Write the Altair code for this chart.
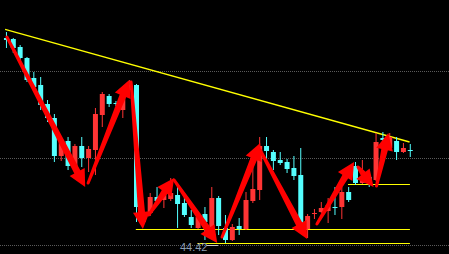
import math
import altair as alt
import pandas as pd

# ---------------- data ----------------
idx = list(range(1, 61))
opens = [54.67, 54.62, 54.22, 53.67, 52.67, 52.32, 51.37, 50.67, 48.77, 49.52,
         48.22, 49.27, 48.67, 49.07, 50.82, 51.77, 51.42, 51.07, 52.07, 52.32,
         45.47, 45.92, 46.72, 46.57, 46.62, 46.82, 46.42, 45.72, 45.17, 45.87,
         45.22, 46.67, 45.17, 44.57, 45.27, 45.12, 46.52, 47.07, 49.27, 48.97,
         48.57, 48.47, 48.17, 47.82, 45.12, 45.87, 45.97, 46.02, 46.22, 46.22,
         46.97, 48.27, 47.42, 47.72, 47.57, 49.67, 49.17, 49.52, 48.97, 49.07]
closes = [54.57, 54.17, 53.67, 52.57, 52.22, 51.32, 50.67, 48.77, 49.47, 48.27,
          49.27, 48.67, 49.12, 50.87, 51.87, 51.37, 51.37, 51.97, 52.32, 46.22,
          45.97, 46.72, 46.52, 46.92, 46.92, 46.37, 45.82, 45.32, 45.72, 45.47,
          46.67, 45.27, 44.57, 45.22, 45.12, 46.57, 47.12, 49.27, 49.02, 48.52,
          48.42, 48.12, 47.77, 45.22, 45.77, 45.92, 46.17, 46.32, 46.17, 46.97,
          46.57, 47.42, 47.72, 47.57, 49.47, 49.57, 49.72, 48.97, 49.17, 49.02]
highs = [54.97, 54.67, 54.32, 53.72, 52.97, 52.72, 51.57, 50.87, 49.57, 49.72,
         49.37, 49.72, 49.27, 51.17, 51.97, 51.87, 51.52, 52.17, 52.57, 52.37,
         46.17, 46.92, 47.22, 47.07, 47.67, 47.22, 46.82, 46.07, 45.82, 46.22,
         47.22, 46.77, 45.82, 45.37, 45.67, 46.97, 48.67, 49.72, 49.72, 49.07,
         48.97, 48.62, 48.77, 49.17, 45.87, 46.12, 46.47, 46.67, 47.22, 47.22,
         47.22, 48.47, 48.57, 47.82, 49.92, 49.97, 49.92, 49.72, 49.42, 49.37]
lows = [54.17, 53.92, 53.47, 52.47, 51.97, 51.07, 50.47, 48.47, 48.52, 48.07,
        48.07, 48.22, 47.97, 47.82, 50.22, 51.22, 51.27, 50.67, 51.97, 45.47,
        45.27, 45.77, 46.32, 46.17, 46.52, 45.17, 45.72, 45.17, 45.12, 44.57,
        45.17, 44.82, 44.42, 44.52, 44.82, 45.07, 46.42, 46.57, 48.42, 48.07,
        48.32, 47.92, 47.57, 45.07, 44.67, 45.62, 45.92, 45.42, 45.82, 45.62,
        46.47, 47.32, 47.37, 47.22, 47.52, 49.52, 49.12, 48.57, 48.92, 48.72]

grid_levels = [53.02, 48.67, 44.32]

trend_x = [0.8, 59.9]
trend_y = [55.10, 49.47]

level_values = [47.37, 45.12, 44.42]
level_start = [50.9, 19.9, 28.9]
level_end = [59.95, 59.95, 59.95]

arrow_tail_x = [1.07, 12.93, 19.21, 21.79, 25.50, 32.50, 38.07, 46.36, 52.36, 55.07]
arrow_tail_y = [54.72, 47.42, 52.47, 45.82, 47.57, 44.72, 49.07, 45.37, 48.22, 47.27]
arrow_tip_x = [12.50, 18.93, 20.93, 25.50, 31.79, 38.07, 44.93, 51.79, 54.64, 56.79]
arrow_tip_y = [47.22, 52.57, 45.12, 47.67, 44.42, 49.42, 44.62, 48.47, 47.22, 49.92]

low_label = "44.42"
low_label_x = 28.36
low_label_y = 44.02
marker_x = [30.2, 31.9]
marker_y = 44.32

# ---------------- styling / scales ----------------
W, H = 449, 254
X0 = 1 - 1.5 / 7
X1 = X0 + W / 7
Y0 = 43.87
Y1 = Y0 + H * 0.05
PX_X = W / (X1 - X0)
PX_Y = H / (Y1 - Y0)

RED = "#ff3434"
CYAN = "#54ffff"
ARROW = "#ff0000"
YELLOW = "#ffff00"

xs = alt.Scale(domain=[X0, X1], nice=False, zero=False)
ys = alt.Scale(domain=[Y0, Y1], nice=False, zero=False)

candles = pd.DataFrame({"i": idx, "open": opens, "close": closes,
                        "high": highs, "low": lows})
candles["dir"] = ["up" if c >= o else "down" for o, c in zip(opens, closes)]
color = alt.Color("dir:N", scale=alt.Scale(domain=["up", "down"], range=[RED, CYAN]), legend=None)

base = alt.Chart(candles)
wicks = base.mark_rule(strokeWidth=1).encode(
    x=alt.X("i:Q", scale=xs, axis=None),
    y=alt.Y("low:Q", scale=ys, axis=None),
    y2="high:Q",
    color=color,
)
bodies = base.mark_bar(size=5).encode(
    x=alt.X("i:Q", scale=xs, axis=None),
    y=alt.Y("open:Q", scale=ys, axis=None),
    y2="close:Q",
    color=color,
)

grid = alt.Chart(pd.DataFrame({"g": grid_levels})).mark_rule(
    color="#5a5a5a", strokeDash=[1, 1], strokeWidth=1, yOffset=0.5
).encode(y=alt.Y("g:Q", scale=ys, axis=None))

trend = alt.Chart(pd.DataFrame({"x": [trend_x[0]], "x2": [trend_x[1]],
                                "y": [trend_y[0]], "y2": [trend_y[1]]})).mark_rule(
    color=YELLOW, strokeWidth=1.3
).encode(x=alt.X("x:Q", scale=xs, axis=None), x2="x2:Q",
         y=alt.Y("y:Q", scale=ys, axis=None), y2="y2:Q")

levels = alt.Chart(pd.DataFrame({"y": level_values, "x": level_start, "x2": level_end})).mark_rule(
    color=YELLOW, strokeWidth=1, yOffset=0.5
).encode(x=alt.X("x:Q", scale=xs, axis=None), x2="x2:Q",
         y=alt.Y("y:Q", scale=ys, axis=None))

# arrows
HEAD = 17
trail_rows, head_rows = [], []
for k, (tx, ty, hx, hy) in enumerate(zip(arrow_tail_x, arrow_tail_y, arrow_tip_x, arrow_tip_y)):
    dx = (hx - tx) * PX_X
    dy = -(hy - ty) * PX_Y
    L = math.hypot(dx, dy)
    ux, uy = dx / L, dy / L
    bx = hx - ux * HEAD * 0.85 / PX_X
    by = hy + uy * HEAD * 0.85 / PX_Y
    trail_rows.append({"a": k, "s": 0, "x": tx, "y": ty, "w": 3})
    trail_rows.append({"a": k, "s": 1, "x": bx, "y": by, "w": 7})
    ang = math.degrees(math.atan2(dx, -dy)) % 360
    head_rows.append({"x": hx, "y": hy, "ang": ang})

shafts = alt.Chart(pd.DataFrame(trail_rows)).mark_trail(color=ARROW).encode(
    x=alt.X("x:Q", scale=xs, axis=None),
    y=alt.Y("y:Q", scale=ys, axis=None),
    size=alt.Size("w:Q", scale=None, legend=None),
    detail="a:N",
    order="s:Q",
)
heads = alt.Chart(pd.DataFrame(head_rows)).mark_point(
    shape="M0,0L0.5,1L-0.5,1Z", filled=True, color=ARROW, opacity=1, strokeWidth=0, size=HEAD * HEAD * 4
).encode(
    x=alt.X("x:Q", scale=xs, axis=None),
    y=alt.Y("y:Q", scale=ys, axis=None),
    angle=alt.Angle("ang:Q", scale=None),
)

marker = alt.Chart(pd.DataFrame({"x": [marker_x[0]], "x2": [marker_x[1]], "y": [marker_y]})).mark_rule(
    color="#c8c8c8", strokeWidth=1, yOffset=0.5
).encode(x=alt.X("x:Q", scale=xs, axis=None), x2="x2:Q", y=alt.Y("y:Q", scale=ys, axis=None))

label = alt.Chart(pd.DataFrame({"x": [low_label_x], "y": [low_label_y], "t": [low_label]})).mark_text(
    font="Liberation Sans", fontSize=11, color="#8c9db2", align="center", baseline="alphabetic"
).encode(x=alt.X("x:Q", scale=xs, axis=None), y=alt.Y("y:Q", scale=ys, axis=None), text="t:N")

chart = alt.layer(grid, trend, levels, wicks, bodies, shafts, heads, marker, label).properties(
    width=W, height=H, padding=0, autosize="none", background="black"
).configure_view(stroke=None, fill="black")

chart.save("out.html", embed_options={"renderer": "svg", "actions": False})
